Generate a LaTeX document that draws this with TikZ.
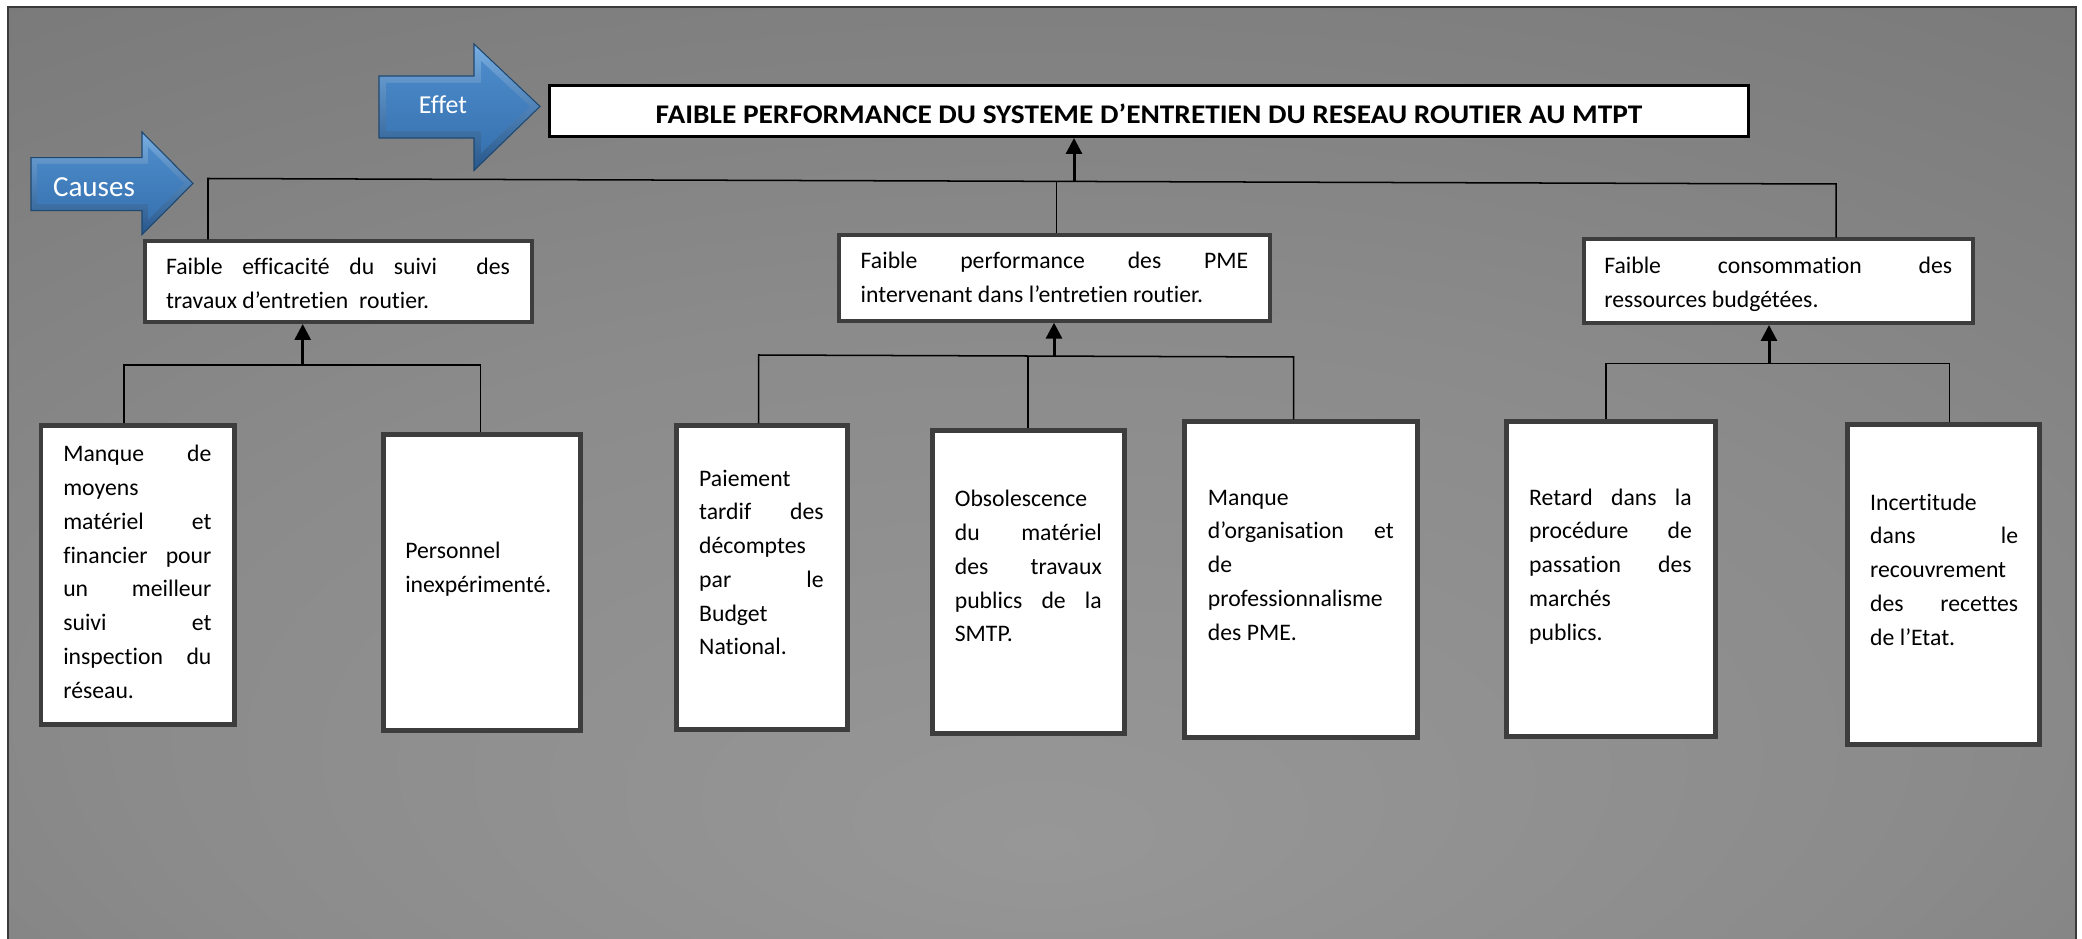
\documentclass[tikz,border=0pt]{standalone}
\usepackage{fontspec}
\setmainfont{Carlito}[Ligatures=NoCommon]
\usetikzlibrary{arrows.meta,fit}

\definecolor{bgc}{HTML}{979797}
\definecolor{bgm}{HTML}{8B8B8B}
\definecolor{bge}{HTML}{737373}
\definecolor{bgf}{HTML}{6E6E6E}
\definecolor{framecol}{HTML}{3A3A3A}
\definecolor{boxline}{HTML}{3D3D3D}
\definecolor{blueA}{HTML}{78AEE3}
\definecolor{blueB}{HTML}{27568A}
\definecolor{blueC}{HTML}{4C8AC9}
\definecolor{blueD}{HTML}{3873B1}
\definecolor{blueE}{HTML}{1F4870}

\pgfdeclareradialshading{bgshade}{\pgfpoint{0bp}{-20bp}}{%
  color(0bp)=(bgc); color(22bp)=(bgm); color(50bp)=(bge); color(70bp)=(bgf)}

% one drawing unit = one pixel of the layout grid
\newlength\pxu
\setlength\pxu{0.464pt}
\newcommand\jline[1]{\makebox[\linewidth][s]{#1}}
\newcommand\boxtext[2]{\parbox[t]{#1\pxu}{\fontsize{11pt}{15.68pt}\selectfont #2}}

\begin{document}
\begin{tikzpicture}[x=0.464pt,y=-0.464pt,
  cbox/.style={draw=boxline, fill=white, inner sep=0pt, outer sep=auto},
  topbox/.style={cbox, line width=1.85pt},
  leafbox/.style={cbox, line width=2.3pt},
  titlebox/.style={draw=black, fill=white, line width=1.4pt, inner sep=0pt, outer sep=auto},
  link/.style={draw=black, line width=0.7pt},
  up/.style={draw=black, line width=1.4pt, -{Triangle[length=7.4pt,width=7.4pt]}},
  txt/.style={inner sep=0pt, outer sep=0pt, anchor=base west, text=black},
  tag/.style={inner sep=0pt, anchor=base, text=white}]

\useasboundingbox (0,0) rectangle (2082,939);
\fill[white] (0,0) rectangle (2082,939);

% shaded panel with its frame
\shade[shading=bgshade] (8,7) rectangle (2076,939);
\draw[framecol, line width=0.7pt] (8,939) -- (8,7) -- (2076,7) -- (2076,939);

% bevelled blue arrows
\shade[top color=blueA, bottom color=blueB, draw=blueE, line width=0.5pt]
  (379,76) -- (474,76) -- (474,44) -- (540,106.4) -- (474,170.5) -- (474,138) -- (379,138) -- cycle;
\shade[top color=blueC, bottom color=blueD]
  (386,83) -- (481,83) -- (481,61) -- (530,106.4) -- (481,153) -- (481,131) -- (386,131) -- cycle;
\node[tag, font=\fontsize{12pt}{14pt}\selectfont] (effet) at (443,114) {Effet};

\shade[top color=blueA, bottom color=blueB, draw=blueE, line width=0.5pt]
  (31,157.7) -- (142,157.7) -- (142,132) -- (193,183.4) -- (142,234.7) -- (142,210.7) -- (31,210.7) -- cycle;
\shade[top color=blueC, bottom color=blueD]
  (37,164) -- (148,164) -- (148,147) -- (184,183.4) -- (148,220) -- (148,204) -- (37,204) -- cycle;
\node[tag, font=\fontsize{13.5pt}{16pt}\selectfont] (causes) at (94,197) {Causes};

% boxes
\node[titlebox, fit={(549.5,85.5) (1748.5,136.5)}] (title) {};

\node[topbox, fit={(144.7,241.3) (532,322)}] (L1) {};
\node[topbox, fit={(839.3,234.7) (1269.7,320.7)}] (M1) {};
\node[topbox, fit={(1583.7,239.3) (1973,323)}] (R1) {};

\node[leafbox, fit={(41,425.2) (234.8,724.2)}] (L2) {};
\node[leafbox, fit={(383.3,434.2) (580.7,730.8)}] (L3) {};
\node[leafbox, fit={(676.2,425.8) (847.2,729.2)}] (M2) {};
\node[leafbox, fit={(932.3,430.8) (1124.7,733.5)}] (M3) {};
\node[leafbox, fit={(1184.8,421.8) (1417.1,737.5)}] (M4) {};
\node[leafbox, fit={(1506.5,421.8) (1715.2,736.8)}] (R2) {};
\node[leafbox, fit={(1847.5,424.2) (2039,744.8)}] (R3) {};

% top level connectors
\coordinate (tb1) at (208,178.5);
\coordinate (tb2) at (1836,184);
\coordinate (tbm) at (1056.7,181.4);
\coordinate (tba) at (1074,181.8);
\draw[link] (L1.north -| tb1) -- (tb1) -- (tb2) -- (R1.north -| tb2);
\draw[link] (tbm) -- (M1.north -| tbm);
\draw[up] (tba) -- (title.south -| tba);

% left group
\coordinate (lb1) at (123.8,365);
\coordinate (lb2) at (480.4,365);
\coordinate (lba) at (302.7,365);
\draw[link] (L2.north -| lb1) -- (lb1) -- (lb2) -- (L3.north -| lb2);
\draw[up] (lba) -- (L1.south -| lba);

% middle group
\coordinate (mb1) at (758.5,355);
\coordinate (mb2) at (1293.5,357);
\coordinate (mbm) at (1027.8,356);
\coordinate (mba) at (1054,356.2);
\draw[link] (M2.north -| mb1) -- (mb1) -- (mb2) -- (M4.north -| mb2);
\draw[link] (mbm) -- (M3.north -| mbm);
\draw[up] (mba) -- (M1.south -| mba);

% right group
\coordinate (rb1) at (1606,363.3);
\coordinate (rb2) at (1949.3,363.3);
\coordinate (rba) at (1769,363.3);
\draw[link] (R2.north -| rb1) -- (rb1) -- (rb2) -- (R3.north -| rb2);
\draw[up] (rba) -- (R1.south -| rba);

% texts
\node[inner sep=0pt, anchor=base, font=\bfseries\fontsize{12.5pt}{14pt}\selectfont] (ttitle) at (1149,123.3)
  {\scalebox{1.09}[1]{FAIBLE PERFORMANCE DU SYSTEME D’ENTRETIEN DU RESEAU ROUTIER AU MTPT}};

\node[txt] (tL1) at (166,275) {\boxtext{344}{\jline{Faible efficacité du suivi\ \ des}\\
  travaux d’entretien\ \ routier.}};
\node[txt] (tM1) at (860.7,268.3) {\boxtext{387.6}{\jline{Faible performance des PME}\\
  intervenant dans l’entretien routier.}};
\node[txt] (tR1) at (1604.3,273.3) {\boxtext{348}{\jline{Faible consommation des}\\
  ressources budgétées.}};

\node[txt] (tL2) at (63.3,461.7) {\boxtext{148.2}{\jline{Manque de}\\ moyens\\
  \jline{matériel et}\\ \jline{financier pour}\\ \jline{un meilleur}\\ \jline{suivi et}\\
  \jline{inspection du}\\ réseau.}};
\node[txt] (tL3) at (405.3,558.3) {\boxtext{170}{Personnel\\ inexpérimenté.}};
\node[txt] (tM2) at (699.2,486) {\boxtext{124.5}{Paiement\\ \jline{tardif des}\\ décomptes\\
  \jline{par le}\\ Budget\\ National.}};
\node[txt] (tM3) at (954.8,506.7) {\boxtext{147}{Obsolescence\\ \jline{du matériel}\\
  \jline{des travaux}\\ \jline{publics de la}\\ SMTP.}};
\node[txt] (tM4) at (1207.9,505) {\boxtext{186}{Manque\\ \jline{d’organisation et}\\ de\\
  professionnalisme\\ des PME.}};
\node[txt] (tR2) at (1529.2,505) {\boxtext{162.6}{\jline{Retard dans la}\\ \jline{procédure de}\\
  \jline{passation des}\\ marchés\\ publics.}};
\node[txt] (tR3) at (1870.2,510) {\boxtext{148}{Incertitude\\ \jline{dans le}\\ recouvrement\\
  \jline{des recettes}\\ de l’Etat.}};
\end{tikzpicture}
\end{document}
